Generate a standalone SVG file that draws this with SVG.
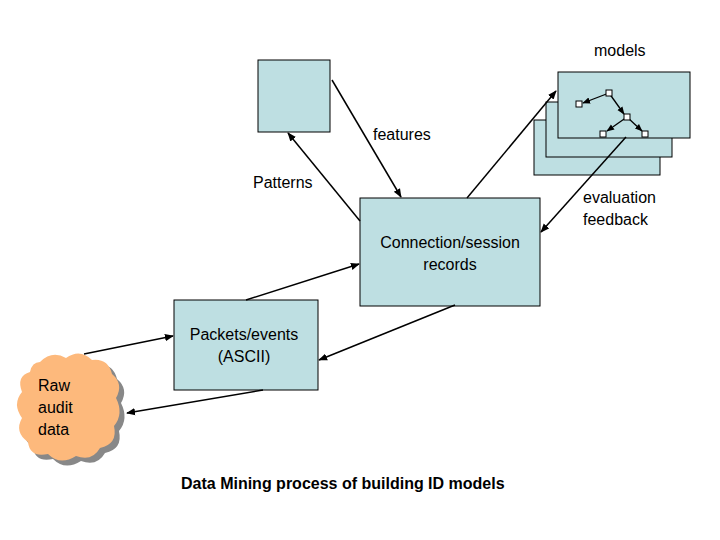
<svg xmlns="http://www.w3.org/2000/svg" width="720" height="540" viewBox="0 0 720 540">
<defs>
<style>
.box{fill:#BEDFE2;stroke:#000;stroke-width:1}
.t{font-family:"Liberation Sans",Arial,sans-serif;font-size:16px;fill:#000}
.ln{stroke:#000;stroke-width:1.5;fill:none}
.sm{fill:#fff;stroke:#000;stroke-width:1}
</style>
<marker id="a" viewBox="0 0 10 10" refX="9" refY="5" markerWidth="6" markerHeight="6" orient="auto-start-reverse"><path d="M0,1 L10,5 L0,9 z" fill="#000"/></marker>
<path id="cl" d="M40,362 Q52,350 66,358 Q80,348 92,360 Q108,358 112,374 Q124,384 116,398 Q124,414 114,426 Q118,444 100,448 Q92,462 76,456 Q60,466 48,454 Q30,458 28,442 Q14,432 22,418 Q12,404 22,392 Q16,376 30,372 Q32,362 40,362 Z"/>
</defs>
<rect width="720" height="540" fill="#fff"/>
<g id="patterns"><rect class="box" x="258" y="60" width="72" height="72"/></g>
<g id="models">
<rect class="box" x="534" y="120" width="126" height="55"/>
<rect class="box" x="546" y="102" width="126" height="55"/>
<rect class="box" x="558" y="72" width="132" height="66"/>
<g class="ln" style="stroke-width:1.3">
<line x1="609" y1="93" x2="583" y2="103" marker-end="url(#a)"/>
<line x1="609" y1="93" x2="624" y2="114" marker-end="url(#a)"/>
<line x1="627" y1="117" x2="607" y2="131" marker-end="url(#a)"/>
<line x1="627" y1="117" x2="642" y2="131" marker-end="url(#a)"/>
</g>
<rect class="sm" x="606" y="90" width="6" height="6"/>
<rect class="sm" x="576" y="101" width="6" height="6"/>
<rect class="sm" x="624" y="114" width="6" height="6"/>
<rect class="sm" x="600" y="131" width="6" height="6"/>
<rect class="sm" x="642" y="131" width="6" height="6"/>
</g>
<g id="conn"><rect class="box" x="360" y="198" width="180" height="108"/>
<text class="t" x="450" y="248" text-anchor="middle">Connection/session</text>
<text class="t" x="450" y="270" text-anchor="middle">records</text></g>
<g id="packets"><rect class="box" x="174" y="300" width="144" height="90"/>
<text class="t" x="244" y="340" text-anchor="middle">Packets/events</text>
<text class="t" x="244" y="362" text-anchor="middle">(ASCII)</text></g>
<g id="raw">
<use href="#cl" transform="translate(5,5)" fill="#888"/>
<use href="#cl" fill="#FDB97C"/>
<text class="t" x="38" y="391">Raw</text>
<text class="t" x="38" y="413">audit</text>
<text class="t" x="38" y="435">data</text>
</g>
<g id="connectors" class="ln">
<line x1="360" y1="221" x2="288" y2="133" marker-end="url(#a)"/>
<line x1="332" y1="80" x2="401" y2="197" marker-end="url(#a)"/>
<line x1="467" y1="198" x2="556" y2="91" marker-end="url(#a)"/>
<line x1="626" y1="137" x2="541" y2="232" marker-end="url(#a)"/>
<line x1="246" y1="300" x2="359" y2="264" marker-end="url(#a)"/>
<line x1="455" y1="305" x2="319" y2="360" marker-end="url(#a)"/>
<line x1="84" y1="354" x2="173" y2="336" marker-end="url(#a)"/>
<line x1="263" y1="390" x2="127" y2="413" marker-end="url(#a)"/>
</g>
<g id="labels">
<text class="t" x="594" y="56">models</text>
<text class="t" x="373" y="140">features</text>
<text class="t" x="253" y="188">Patterns</text>
<text class="t" x="583" y="203">evaluation</text>
<text class="t" x="583" y="225">feedback</text>
<text class="t" x="181" y="489" style="font-weight:bold">Data Mining process of building ID models</text>
</g>
</svg>
